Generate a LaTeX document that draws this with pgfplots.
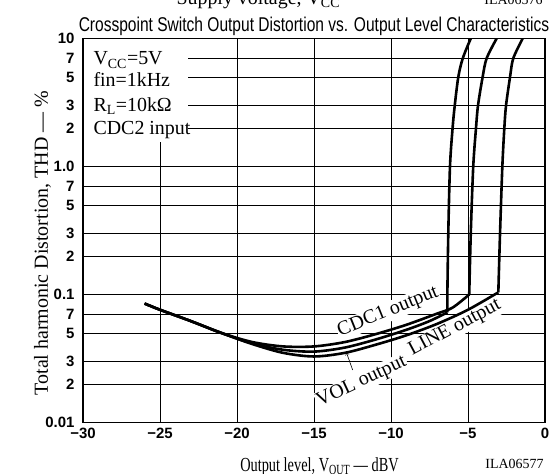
\documentclass[border=0pt]{standalone}
\usepackage{graphicx}
\usepackage{pgfplots}
\pgfplotsset{compat=1.18}
\usepackage{fontspec}
\setmainfont{Liberation Serif}
\newfontfamily\helv{Liberation Sans}

% THD vs output level, three outputs (CDC2 input)
\pgfplotstableread{
x y
-26 0.085
-25 0.076
-23 0.062
-21 0.050
-19 0.0425
-17 0.0393
-15 0.0393
-13 0.0425
-11 0.049
-9 0.058
-7 0.071
-6 0.079
-4.92 0.1
}\cdcone
\pgfplotstableread{
x y
-4.92 0.1
-4.82 0.3
-4.66 1
-4.48 2
-4.35 3
-4.05 5
-3.79 7
-3.14 10
}\cdconeclip
\pgfplotstableread{
x y
-26 0.085
-25 0.076
-23 0.062
-21 0.050
-19 0.0415
-17 0.037
-15 0.0358
-13 0.0385
-11 0.0445
-9 0.053
-7.5 0.062
-6.34 0.0725
}\vol
\pgfplotstableread{
x y
-6.34 0.0725
-6.34 0.1
-6.28 0.3
-6.17 1
-6.0 2
-5.86 3
-5.63 5
-5.34 7
-4.82 10
}\volclip
\pgfplotstableread{
x y
-26 0.085
-25 0.076
-23 0.062
-21 0.050
-19 0.041
-17 0.035
-15 0.0328
-13 0.035
-11 0.0405
-9 0.048
-7 0.059
-5 0.076
-3.03 0.104
}\line
\pgfplotstableread{
x y
-3.03 0.104
-2.92 0.3
-2.77 1
-2.64 2
-2.53 3
-2.27 5
-2.06 7
-1.45 10
}\lineclip

\begin{document}
\begin{tikzpicture}
\begin{axis}[
  name=ax,
  scale only axis, width=462bp, height=384bp,
  xmin=-30, xmax=0, ymode=log, ymin=0.01, ymax=10,
  xtick={-30,-25,-20,-15,-10,-5,0},
  xticklabels={−30,−25,−20,−15,−10,−5,0},
  ytick={0.01,0.02,0.03,0.05,0.07,0.1,0.2,0.3,0.5,0.7,1,2,3,5,7,10},
  yticklabels={0.01,2,3,5,7,0.1,2,3,5,7,1.0,2,3,5,7,10},
  grid=major,
  major grid style={draw=black, line width=0.8bp},
  axis line style={line width=1.6bp},
  major tick length=0pt, minor tick length=0pt,
  tick label style={font=\helv\bfseries\fontsize{15}{15}\selectfont},
  yticklabel style={xshift=-5bp},
  xticklabel style={yshift=-2bp},
  title={\scalebox{0.78}[1]{Crosspoint Switch Output Distortion vs. Output Level Characteristics}},
  title style={font=\helv\fontsize{20}{20}\selectfont, at={(0.5,1)}, anchor=base, yshift=1.5bp},
  xlabel={\scalebox{0.72}[1]{Output level, V\textsubscript{OUT} — dBV}},
  xlabel style={font=\fontsize{20}{20}\selectfont, at={(0.512,0)}, anchor=base, yshift=-49bp},
  ylabel={Total harmonic Distortion, THD — \%},
  ylabel style={font=\fontsize{20}{20}\selectfont, at={(axis description cs:-0.0758,0.467)}, anchor=base},
]
\fill[white] (rel axis cs:0,0.7305) rectangle (rel axis cs:0.2273,1);
\node[anchor=base west, font=\fontsize{20}{20}\selectfont] at (rel axis cs:0.0152,0.931) {V\textsubscript{CC}=5V};
\node[anchor=base west, font=\fontsize{20}{20}\selectfont] at (rel axis cs:0.0152,0.874) {fin=1kHz};
\node[anchor=base west, font=\fontsize{20}{20}\selectfont] at (rel axis cs:0.0152,0.809) {R\textsubscript{L}=10kΩ};
\node[anchor=base west, font=\fontsize{20}{20}\selectfont] at (rel axis cs:0.0152,0.749) {CDC2 input};

\node[rotate=22, fill=white, inner sep=1bp, font=\fontsize{20}{20}\selectfont] at (axis cs:-10.19,0.073) {CDC1 output};
\node[rotate=28, fill=white, inner sep=1bp, font=\fontsize{20}{20}\selectfont] at (axis cs:-5.84,0.0547) {LINE output};
\node[rotate=25, fill=white, inner sep=1bp, font=\fontsize{20}{20}\selectfont] at (axis cs:-11.9,0.0208) {VOL output};
\draw[->, line width=0.6bp] (axis cs:-12.49,0.0257) -- (axis cs:-12.88,0.0349);

\addplot[black, line width=2.6bp, smooth] table {\cdcone};
\addplot[black, line width=2.6bp, smooth] table {\cdconeclip};
\addplot[black, line width=2.6bp, smooth] table {\vol};
\addplot[black, line width=2.6bp, smooth] table {\volclip};
\addplot[black, line width=2.6bp, smooth] table {\line};
\addplot[black, line width=2.6bp, smooth] table {\lineclip};

\draw[line width=1.6bp] (rel axis cs:0,0) rectangle (rel axis cs:1,1);
\end{axis}
\node[anchor=base west, font=\fontsize{20}{20}\selectfont] at ([shift={(90bp,34bp)}]ax.north west) {Supply voltage, V\textsubscript{CC}};
\node[anchor=base east, font=\fontsize{14}{14}\selectfont] at ([shift={(1bp,34bp)}]ax.north east) {ILA06576};
\node[anchor=base east, font=\fontsize{14}{14}\selectfont] at ([shift={(2bp,-45.5bp)}]ax.south east) {ILA06577};
\pgfresetboundingbox
\path[use as bounding box] ([shift={(-83bp,-51.5bp)}]ax.south west) rectangle ([shift={(13bp,38.5bp)}]ax.north east);
\end{tikzpicture}
\end{document}
